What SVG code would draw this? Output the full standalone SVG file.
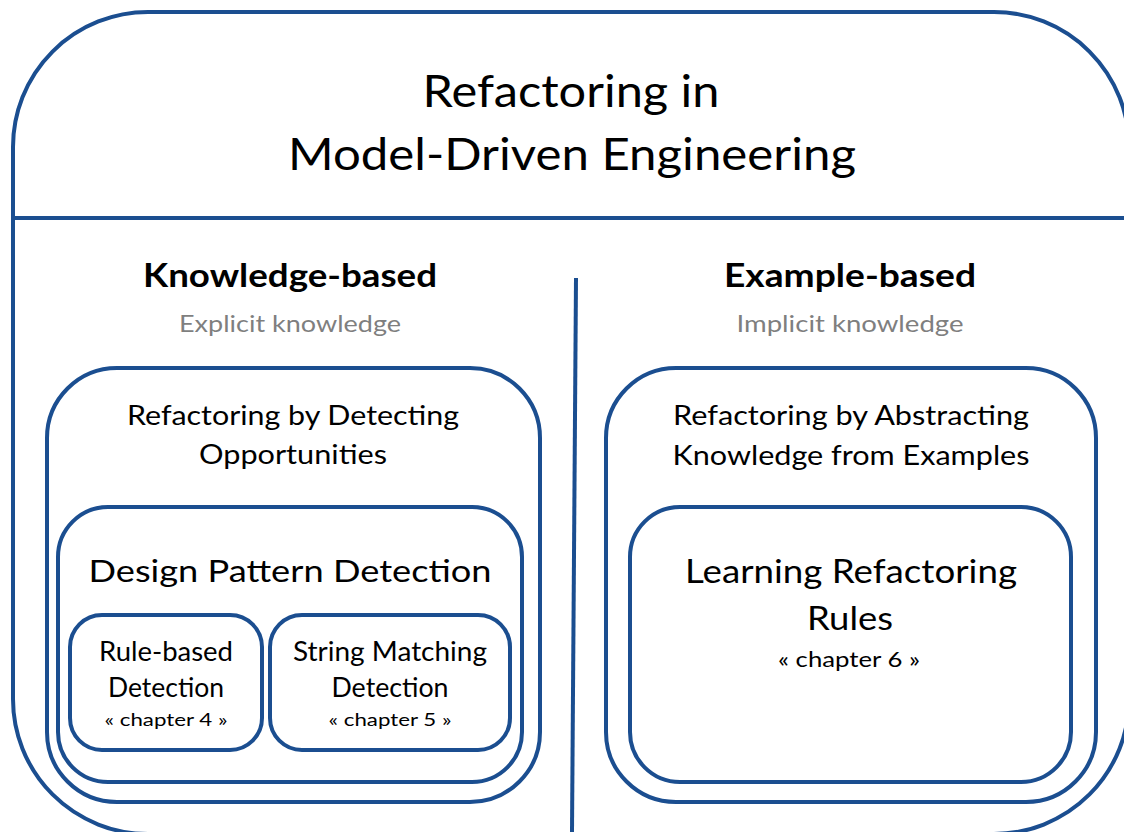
<svg xmlns="http://www.w3.org/2000/svg" width="1124" height="832" viewBox="0 0 1124 832">
  <style>
    .frame { fill: none; stroke: #1b4e90; stroke-width: 4; }
    .line { stroke: #1b4e90; stroke-width: 4; fill: none; }
    text { font-family: Lato, "Liberation Sans", sans-serif; fill: #000; text-anchor: middle; }
    .title { font-size: 44px; }
    .head { font-size: 32px; font-weight: bold; }
    .sub { font-size: 23px; fill: #7f7f7f; }
    .l1 { font-size: 26px; }
    .l2 { font-size: 30px; }
    .l3 { font-size: 26px; }
    .ch { font-size: 18px; }
    .l4 { font-size: 33px; }
    .ch6 { font-size: 21px; }
  </style>
  <rect width="1124" height="832" fill="#ffffff"/>

  <!-- outer frame with title band -->
  <g id="frame">
    <rect class="frame" x="13" y="12" width="1116" height="822" rx="135" ry="135"/>
    <text class="title" x="571" y="107" textLength="297" lengthAdjust="spacingAndGlyphs">Refactoring in</text>
    <text class="title" x="572" y="170" textLength="568" lengthAdjust="spacingAndGlyphs">Model-Driven Engineering</text>
  </g>

  <!-- separators -->
  <g id="connectors">
    <line class="line" x1="13" y1="218" x2="1124" y2="218"/>
    <line class="line" x1="576" y1="278" x2="572" y2="832" stroke-width="3.5"/>
  </g>

  <!-- left column -->
  <g id="knowledge-based">
    <text class="head" x="290" y="287" textLength="294" lengthAdjust="spacingAndGlyphs">Knowledge-based</text>
    <text class="sub" x="290" y="332" textLength="222" lengthAdjust="spacingAndGlyphs">Explicit knowledge</text>
  </g>
  <g id="detecting-opportunities">
    <rect class="frame" x="47" y="368" width="493" height="434" rx="70" ry="70"/>
    <text class="l1" x="293" y="425" textLength="332" lengthAdjust="spacingAndGlyphs">Refactoring by Detecting</text>
    <text class="l1" x="293" y="464" textLength="188" lengthAdjust="spacingAndGlyphs">Opportunities</text>
  </g>
  <g id="design-pattern-detection">
    <rect class="frame" x="58" y="507" width="464" height="275" rx="50" ry="50"/>
    <text class="l2" x="290" y="582" textLength="403" lengthAdjust="spacingAndGlyphs">Design Pattern Detection</text>
  </g>
  <g id="rule-based-detection">
    <rect class="frame" x="70" y="615" width="192" height="135" rx="32" ry="32"/>
    <text class="l3" x="166" y="661" textLength="134" lengthAdjust="spacingAndGlyphs">Rule-based</text>
    <text class="l3" x="166" y="697" textLength="116" lengthAdjust="spacingAndGlyphs">Detection</text>
    <text class="ch" x="166" y="726" textLength="123" lengthAdjust="spacingAndGlyphs">« chapter 4 »</text>
  </g>
  <g id="string-matching-detection">
    <rect class="frame" x="270" y="615" width="240" height="135" rx="32" ry="32"/>
    <text class="l3" x="390" y="661" textLength="194" lengthAdjust="spacingAndGlyphs">String Matching</text>
    <text class="l3" x="390" y="697" textLength="117" lengthAdjust="spacingAndGlyphs">Detection</text>
    <text class="ch" x="390" y="726" textLength="123" lengthAdjust="spacingAndGlyphs">« chapter 5 »</text>
  </g>

  <!-- right column -->
  <g id="example-based">
    <text class="head" x="850" y="287" textLength="252" lengthAdjust="spacingAndGlyphs">Example-based</text>
    <text class="sub" x="850" y="332" textLength="227" lengthAdjust="spacingAndGlyphs">Implicit knowledge</text>
  </g>
  <g id="abstracting-knowledge">
    <rect class="frame" x="606" y="368" width="490" height="434" rx="70" ry="70"/>
    <text class="l1" x="851" y="425" textLength="356" lengthAdjust="spacingAndGlyphs">Refactoring by Abstracting</text>
    <text class="l1" x="851" y="465" textLength="357" lengthAdjust="spacingAndGlyphs">Knowledge from Examples</text>
  </g>
  <g id="learning-refactoring-rules">
    <rect class="frame" x="630" y="507" width="441" height="275" rx="50" ry="50"/>
    <text class="l4" x="851" y="583" textLength="332" lengthAdjust="spacingAndGlyphs">Learning Refactoring</text>
    <text class="l4" x="850" y="630" textLength="86" lengthAdjust="spacingAndGlyphs">Rules</text>
    <text class="ch6" x="849" y="667" textLength="142" lengthAdjust="spacingAndGlyphs">« chapter 6 »</text>
  </g>
</svg>
